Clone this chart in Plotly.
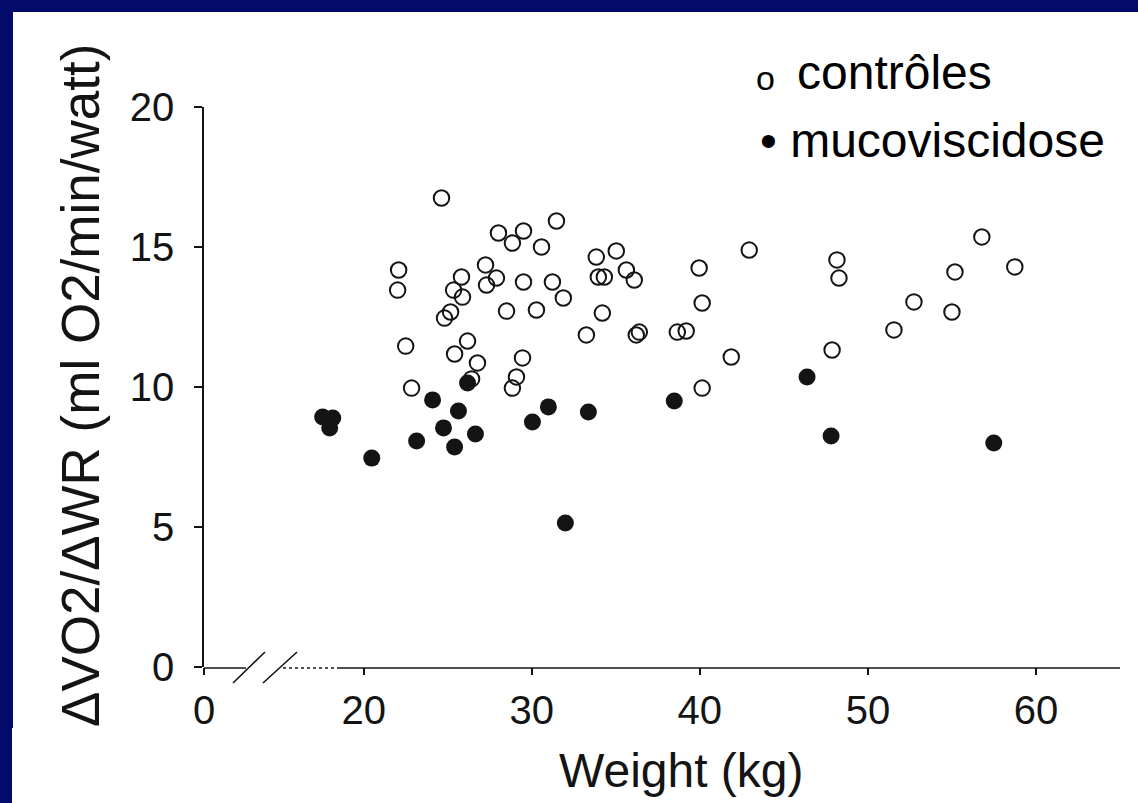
import plotly.graph_objects as go

# ---- data ----
ctrl_weight = [24.63, 22.08, 22.02, 22.50, 22.85, 24.81, 25.17, 25.35, 25.82, 25.88,
               25.41, 26.18, 26.42, 26.77, 27.25, 27.31, 27.90, 28.02, 28.85, 29.51,
               28.50, 29.51, 29.09, 28.85, 29.45, 30.58, 31.47, 30.28, 31.23, 31.88,
               33.25, 33.84, 33.96, 34.32, 34.20, 35.03, 35.63, 36.10, 36.22, 36.40,
               38.66, 39.19, 39.96, 40.14, 40.14, 41.87, 42.94, 47.87, 48.16, 48.28,
               51.55, 52.74, 55.00, 55.18, 56.78, 58.74]
ctrl_vo2 = [16.75, 14.18, 13.46, 11.46, 9.96, 12.46, 12.68, 13.46, 13.93, 13.21,
            11.18, 11.64, 10.29, 10.86, 14.36, 13.64, 13.89, 15.50, 15.14, 15.57,
            12.71, 13.75, 10.36, 9.96, 11.04, 15.00, 15.93, 12.75, 13.75, 13.18,
            11.86, 14.64, 13.93, 13.93, 12.64, 14.86, 14.18, 13.82, 11.86, 11.96,
            11.96, 12.00, 14.25, 13.00, 9.96, 11.07, 14.89, 11.32, 14.54, 13.89,
            12.04, 13.04, 12.68, 14.11, 15.36, 14.29]

cf_weight = [17.56, 18.16, 17.98, 20.48, 23.15, 24.10, 24.75, 25.64, 25.41, 26.65,
             26.18, 30.04, 30.99, 33.37, 32.00, 38.48, 46.38, 47.81, 57.49]
cf_vo2 = [8.93, 8.89, 8.54, 7.46, 8.07, 9.54, 8.54, 9.14, 7.86, 8.32,
          10.14, 8.75, 9.29, 9.11, 5.14, 9.50, 10.36, 8.25, 8.00]

# axis break: the "0" tick sits just left of the broken segment
x_tickvals = [10.5, 20, 30, 40, 50, 60]
x_ticktext = ["0", "20", "30", "40", "50", "60"]
y_tickvals = [0, 5, 10, 15, 20]

W, H = 1138, 803
L, R, T, B = 204, 18, 107, 136
PW, PH = W - L - R, H - T - B
FONT = "Liberation Sans, Arial, Helvetica, sans-serif"
NAVY = "#020b69"
INK = "#141414"


def px(x):
    return (x - L) / PW


def py(y):
    return (H - B - y) / PH


fig = go.Figure()
fig.add_trace(go.Scatter(
    x=cf_weight, y=cf_vo2, mode="markers", name="mucoviscidose",
    marker=dict(symbol="circle", size=17, color=INK, line=dict(width=0)),
    cliponaxis=False))
fig.add_trace(go.Scatter(
    x=ctrl_weight, y=ctrl_vo2, mode="markers", name="contrôles",
    marker=dict(symbol="circle-open", size=15.5, color=INK, line=dict(width=2, color=INK)),
    cliponaxis=False))

shapes = []
# navy frame
shapes.append(dict(type="rect", xref="paper", yref="paper", x0=px(-5), x1=px(W + 5),
                   y0=py(12), y1=py(-5), fillcolor=NAVY, line=dict(width=0), layer="below"))
shapes.append(dict(type="rect", xref="paper", yref="paper", x0=px(-5), x1=px(13),
                   y0=py(728), y1=py(-5), fillcolor=NAVY, line=dict(width=0), layer="below"))
shapes.append(dict(type="rect", xref="paper", yref="paper", x0=px(-5), x1=px(12),
                   y0=py(H + 5), y1=py(728), fillcolor=NAVY, line=dict(width=0), layer="below"))
# broken x axis line
ax_y = py(668)
lw = 1.6
shapes.append(dict(type="line", xref="paper", yref="paper", x0=px(204), x1=px(246),
                   y0=ax_y, y1=ax_y, line=dict(color=INK, width=lw)))
shapes.append(dict(type="line", xref="paper", yref="paper", x0=px(233), x1=px(265),
                   y0=py(683), y1=py(652), line=dict(color=INK, width=lw)))
shapes.append(dict(type="line", xref="paper", yref="paper", x0=px(263), x1=px(297),
                   y0=py(683), y1=py(652), line=dict(color=INK, width=lw)))
shapes.append(dict(type="line", xref="paper", yref="paper", x0=px(283), x1=px(338),
                   y0=ax_y, y1=ax_y, line=dict(color=INK, width=lw, dash="dot")))
shapes.append(dict(type="line", xref="paper", yref="paper", x0=px(338), x1=px(1120),
                   y0=ax_y, y1=ax_y, line=dict(color=INK, width=lw)))

annotations = [
    dict(text="Weight (kg)", xref="paper", yref="paper", x=px(681), y=py(770),
         xanchor="center", yanchor="middle", showarrow=False,
         font=dict(family=FONT, size=48, color=INK)),
    dict(text="ΔVO2/ΔWR (ml O2/min/watt)", xref="paper", yref="paper", x=px(80), y=py(386),
         xanchor="center", yanchor="middle", textangle=-90, showarrow=False,
         font=dict(family=FONT, size=53, color=INK)),
    dict(text="o", xref="paper", yref="paper", x=px(765), y=py(78),
         xanchor="center", yanchor="middle", showarrow=False,
         font=dict(family=FONT, size=34, color="#000000")),
    dict(text="contrôles", xref="paper", yref="paper", x=px(795), y=py(72),
         xanchor="left", yanchor="middle", showarrow=False,
         font=dict(family=FONT, size=48, color="#000000")),
    dict(text="• mucoviscidose", xref="paper", yref="paper", x=px(758), y=py(140),
         xanchor="left", yanchor="middle", showarrow=False,
         font=dict(family=FONT, size=48, color="#000000")),
]

fig.update_layout(
    width=W, height=H,
    margin=dict(l=L, r=R, t=T, b=B, pad=0),
    paper_bgcolor="white", plot_bgcolor="white",
    showlegend=False,
    shapes=shapes, annotations=annotations,
    xaxis=dict(range=[10.5, 65], tickvals=x_tickvals, ticktext=x_ticktext,
               showgrid=False, zeroline=False, showline=False,
               ticks="outside", ticklen=7, tickwidth=1.6, tickcolor=INK,
               ticklabelstandoff=1,
               tickfont=dict(family=FONT, size=40, color=INK)),
    yaxis=dict(range=[0, 20], tickvals=y_tickvals,
               showgrid=False, zeroline=False, showline=True, linecolor=INK, linewidth=1.6,
               ticks="outside", ticklen=8, tickwidth=1.6, tickcolor=INK,
               ticklabelstandoff=12,
               tickfont=dict(family=FONT, size=40, color=INK)),
)

fig.write_html(
    "out.html",
    config={"displayModeBar": False},
    post_script="document.body.style.margin='0';document.body.style.overflow='hidden';",
)
